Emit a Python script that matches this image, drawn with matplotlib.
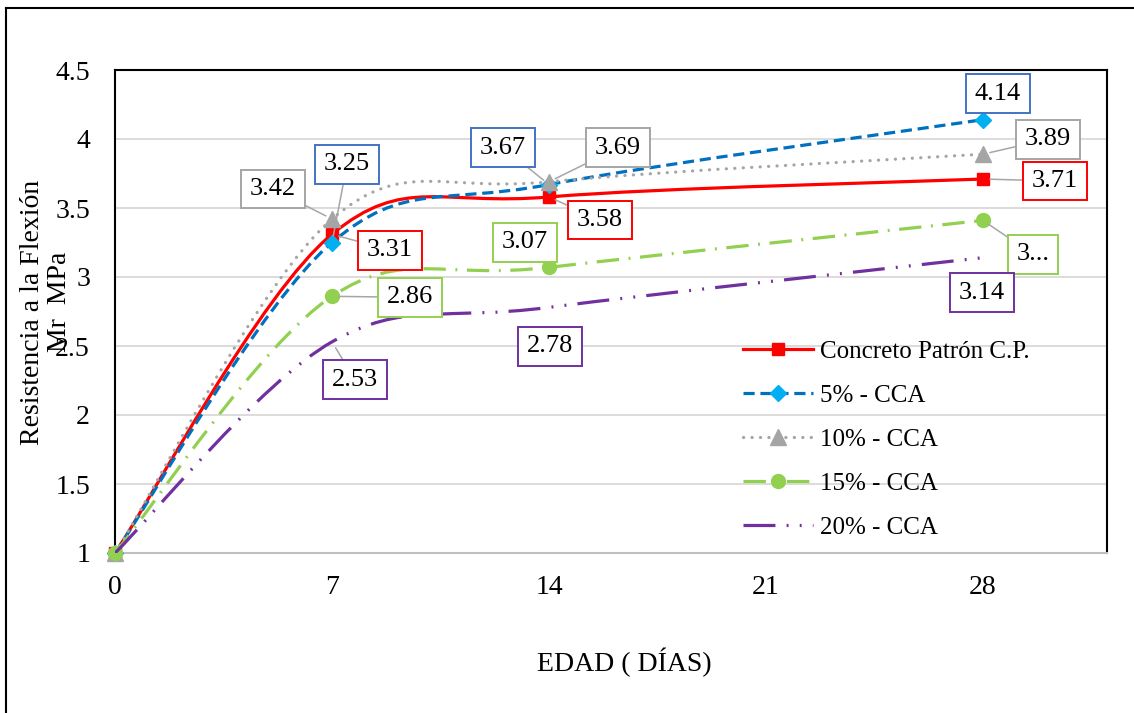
import numpy as np
import matplotlib
matplotlib.use('Agg')
import matplotlib.pyplot as plt
from matplotlib.path import Path
from matplotlib.patches import PathPatch
from matplotlib.lines import Line2D

plt.rcParams['font.family'] = ['Liberation Serif', 'DejaVu Serif']

# Datos
edad = [0, 7, 14, 28]
cp = [1, 3.31, 3.58, 3.71]
cca5 = [1, 3.25, 3.67, 4.14]
cca10 = [1, 3.42, 3.69, 3.89]
cca15 = [1, 2.86, 3.07, 3.41]
cca20 = [1, 2.53, 2.78, 3.14]
nombres = ['Concreto Patrón C.P.', '5% - CCA', '10% - CCA', '15% - CCA', '20% - CCA']
x_ticks = [0, 7, 14, 21, 28]
y_ticks = [1, 1.5, 2, 2.5, 3, 3.5, 4, 4.5]
y_tick_labels = ['1', '1.5', '2', '2.5', '3', '3.5', '4', '4.5']


def curva_suave(x, y):
    """Curva suavizada tipo Excel (Bezier cubica)"""
    p = np.column_stack([x, y]).astype(float)
    n = len(p)
    verts = [p[0]]
    codes = [Path.MOVETO]
    for i in range(n - 1):
        p0 = p[i - 1] if i > 0 else p[i]
        p3 = p[i + 2] if i + 2 < n else p[i + 1]
        c1 = p[i] + (p[i + 1] - p0) / 6
        c2 = p[i + 1] - (p3 - p[i]) / 6
        verts += [c1, c2, p[i + 1]]
        codes += [Path.CURVE4] * 3
    return Path(verts, codes)


series = [cp, cca5, cca10, cca15, cca20]
colores = ['#FF0000', '#0070C0', '#A5A5A5', '#92D050', '#7030A0']
estilos = ['-', (0, (3.5, 1.8)), (0, (0.05, 2.6)), (0, (7, 3, 0.6, 3)),
           (0, (10, 3.5, 0.6, 3.5, 0.6, 3.5))]
caps = ['round', 'butt', 'round', 'butt', 'butt']
marcadores = ['s', 'D', '^', 'o', None]
color_marcador = ['#FF0000', '#00B0F0', '#A5A5A5', '#92D050', '#7030A0']
tam_marcador = [9, 8, 11, 10, 0]
borde_caja = ['#FF0000', '#4472C4', '#A5A5A5', '#92D050', '#7030A0']

# desplazamientos de las etiquetas (pixeles) y si llevan linea guia
desp = [
    [(58, -16), (51, -23), (72, -2)],
    [(15, 78), (-46, 37), (15, 26)],
    [(-59, 30), (69, 34), (65, 15)],
    [(78, -1), (-24, 25), (50, -34)],
    [(23, -38), (1, -39), (-1, -35)],
]
guia = [
    [True, True, True],
    [True, True, False],
    [True, True, True],
    [True, False, True],
    [True, False, False],
]

fig = plt.figure(figsize=(11.34, 7.13), dpi=100)
ax = fig.add_axes([115 / 1134, 160 / 713, 992 / 1134, 483 / 713])

handles = []
for k, datos in enumerate(series):
    patch = PathPatch(curva_suave(edad, datos), fill=False, edgecolor=colores[k],
                      lw=2.3, linestyle=estilos[k], capstyle=caps[k], zorder=2 + k)
    ax.add_patch(patch)
    if marcadores[k]:
        ax.plot(edad, datos, linestyle='none', marker=marcadores[k], ms=tam_marcador[k],
                color=color_marcador[k], mec=color_marcador[k], zorder=2.5 + k,
                clip_on=False)
    handles.append(Line2D([], [], color=colores[k], lw=2.3, linestyle=estilos[k],
                          dash_capstyle=caps[k], marker=marcadores[k],
                          ms=tam_marcador[k], mfc=color_marcador[k],
                          mec=color_marcador[k]))

    for j in range(1, len(edad)):
        texto = f'{datos[j]:.2f}'
        if k == 3 and j == 3:
            texto = '3...'
        props = dict(arrowstyle='-', color='#A6A6A6', lw=1.1, shrinkA=0, shrinkB=5) if guia[k][j - 1] else None
        ax.annotate(texto, xy=(edad[j], datos[j]), xytext=desp[k][j - 1],
                    textcoords='offset pixels', ha='center', va='center', fontsize=19,
                    bbox=dict(boxstyle='square,pad=0.32', fc='white', ec=borde_caja[k], lw=1.4),
                    arrowprops=props, annotation_clip=False, zorder=10)

ax.set_xlim(0, 32)
ax.set_ylim(1, 4.5)
ax.set_xticks(x_ticks)
ax.set_yticks(y_ticks)
ax.set_yticklabels(y_tick_labels)
ax.tick_params(length=0, labelsize=20)
ax.tick_params(axis='y', pad=18)
ax.tick_params(axis='x', pad=16)
ax.grid(axis='y', color='#D9D9D9', lw=1.3)
ax.set_axisbelow(True)
for s in ['left', 'top', 'right']:
    ax.spines[s].set_color('black')
    ax.spines[s].set_linewidth(1.5)
ax.spines['bottom'].set_color('#BFBFBF')
ax.spines['bottom'].set_linewidth(1.5)

ax.legend(handles, nombres, loc='upper left', bbox_to_anchor=(0.633, 0.44),
          frameon=False, fontsize=18, handlelength=2.8, handletextpad=0.3,
          labelspacing=0.86, borderpad=0, borderaxespad=0)

# titulos de ejes
fig.text(624 / 1134, 1 - 662 / 713, 'EDAD ( DÍAS)', ha='center', va='center', fontsize=20)
fig.text(33 / 1134, 1 - 312 / 713, 'Resistencia a la Flexión', rotation=90,
         ha='center', va='center', fontsize=20)
fig.text(60 / 1134, 1 - 302 / 713, 'Mr  MPa', rotation=90,
         ha='center', va='center', fontsize=20)

# marco exterior
fig.add_artist(Line2D([5.5 / 1134, 5.5 / 1134], [0, 1 - 8 / 713], color='black', lw=1.5,
                      transform=fig.transFigure))
fig.add_artist(Line2D([5.5 / 1134, 1], [1 - 8 / 713, 1 - 8 / 713], color='black', lw=1.5,
                      transform=fig.transFigure))

fig.savefig('out.png', dpi=100)
